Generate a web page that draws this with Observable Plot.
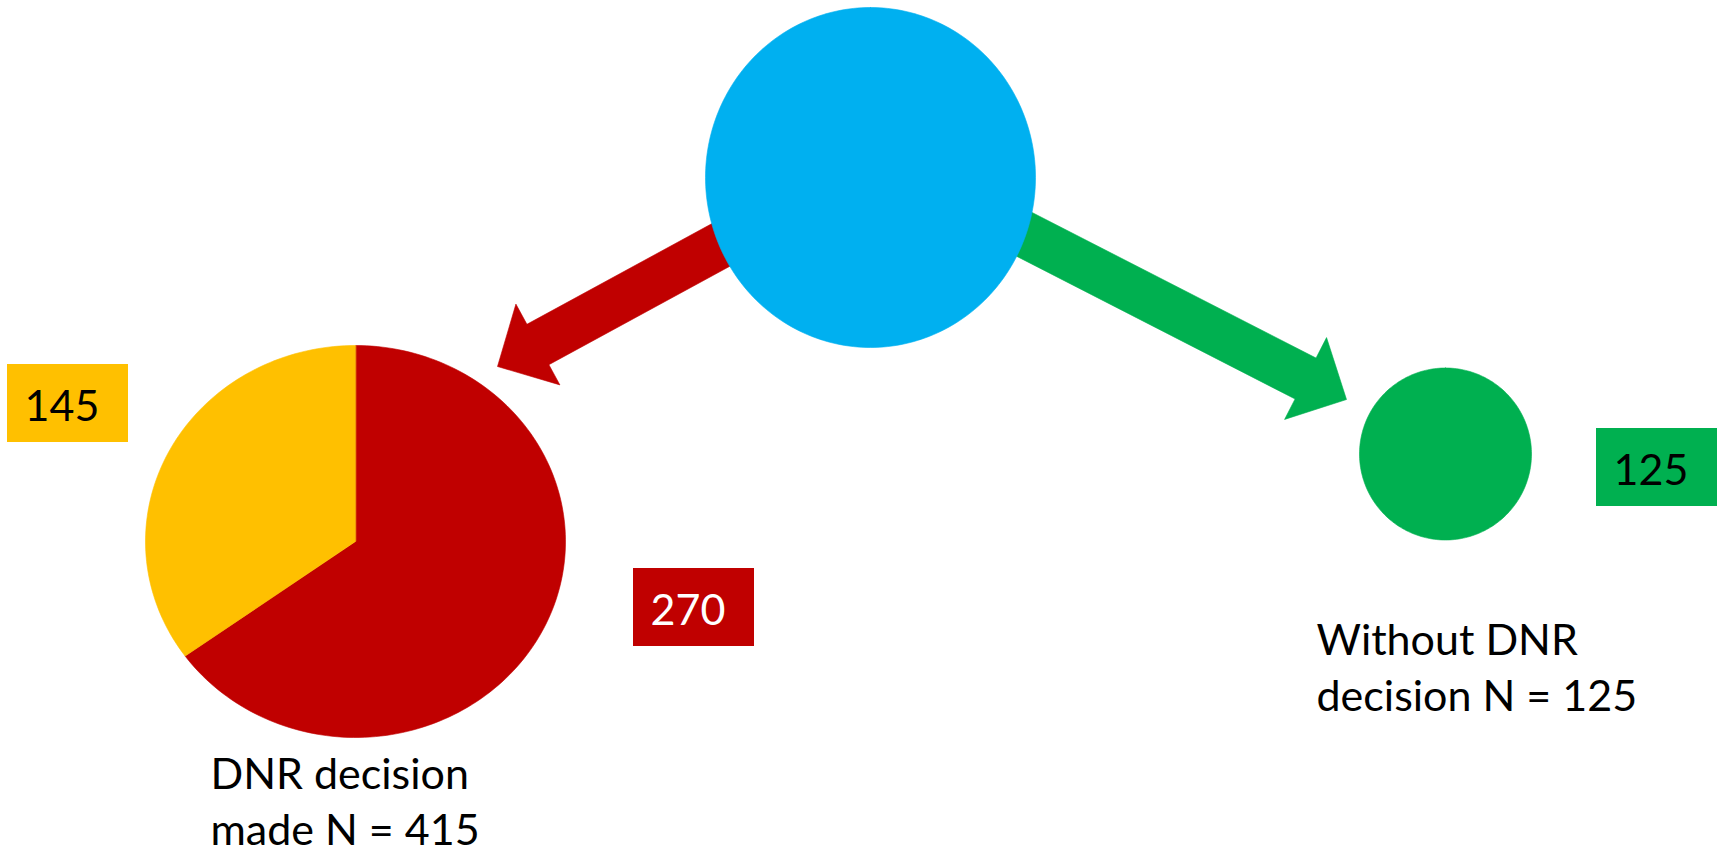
<!DOCTYPE html>
<html>
<head>
<meta charset="utf-8">
<script src="https://cdn.jsdelivr.net/npm/d3@7"></script>
<script src="https://cdn.jsdelivr.net/npm/@observablehq/plot@0.6"></script>
<style>
  html, body { margin: 0; padding: 0; background: #ffffff; }
  #chart svg { display: block; }
</style>
</head>
<body>
<div id="chart"></div>
<script>
// Patients split by whether a DNR decision was made
const groups = ["DNR decision made", "Without DNR decision"];
const groupN = [415, 125];
const groupLabels = ["DNR decision\nmade", "Without DNR\ndecision"];

// The DNR group, split into two subgroups (pie slices, clockwise from 12 o'clock)
const dnrSliceNames = ["subgroup 1", "subgroup 2"];
const dnrSliceN = [270, 145];

// ---- drawing setup -------------------------------------------------------
const W = 1720, H = 854;
const FONT = "Lato, 'Open Sans', sans-serif";
const RED = "#C00000", YELLOW = "#FFC000", GREEN = "#00B050", BLUE = "#00B0F0";

// node geometry (pixel units of the diagram)
const sourceNode = {cx: 870, cy: 177, rx: 165, ry: 170};
const dnrNode = {cx: 355, cy: 541, rx: 210, ry: 196};
const withoutNode = {cx: 1445, cy: 453.5, rx: 86, ry: 86};

// block arrows from the source node to each group
const arrowShape = {shaft: 46, head: 92, headLength: 46};
const arrowPaths = [
  {from: [870, 163], to: [497, 366], color: RED},
  {from: [870, 155], to: [1346, 399], color: GREEN}
];

// value boxes: size and text placement inside each box
const boxSize = {w: 121, h: 78, textDx: 17, baseline: 56};

function ellipsePoints(node, a0 = 0, a1 = 2 * Math.PI, center = false, steps = 240) {
  const pts = [];
  if (center) pts.push({x: node.cx, y: node.cy});
  const n = Math.max(2, Math.ceil(steps * (a1 - a0) / (2 * Math.PI)));
  for (let i = 0; i <= n; ++i) {
    const a = a0 + (a1 - a0) * i / n;
    pts.push({x: node.cx + node.rx * Math.sin(a), y: node.cy - node.ry * Math.cos(a)});
  }
  return pts;
}

function arrowPoints({from, to}) {
  const [sx, sy] = from, [tx, ty] = to;
  const len = Math.hypot(tx - sx, ty - sy);
  const ux = (tx - sx) / len, uy = (ty - sy) / len;
  const nx = -uy, ny = ux;
  const bx = tx - ux * arrowShape.headLength, by = ty - uy * arrowShape.headLength;
  const s = arrowShape.shaft / 2, h = arrowShape.head / 2;
  return [
    {x: sx + nx * s, y: sy + ny * s},
    {x: bx + nx * s, y: by + ny * s},
    {x: bx + nx * h, y: by + ny * h},
    {x: tx, y: ty},
    {x: bx - nx * h, y: by - ny * h},
    {x: bx - nx * s, y: by - ny * s},
    {x: sx - nx * s, y: sy - ny * s}
  ];
}

const shape = (points, color) =>
  Plot.line(points, {x: "x", y: "y", fill: color, stroke: color, strokeWidth: 0.6, curve: "linear-closed"});

// pie slices of the DNR group
const sliceColors = [RED, YELLOW];
const arcs = d3.pie().sort(null).value(d => d)(dnrSliceN);
const sliceMarks = arcs.map((a, i) =>
  shape(ellipsePoints(dnrNode, a.startAngle, a.endAngle, true), sliceColors[i]));

// value boxes
const boxes = [
  {n: dnrSliceN[0], x: 633, y: 568, bg: RED, fg: "#ffffff"},
  {n: dnrSliceN[1], x: 7, y: 364, bg: YELLOW, fg: "#000000"},
  {n: groupN[1], x: 1596, y: 428, bg: GREEN, fg: "#000000"}
];

// group captions below the nodes
const captions = [
  {text: `${groupLabels[0]} N = ${groupN[0]}`, x: 210, y: 844},
  {text: `${groupLabels[1]} N = ${groupN[1]}`, x: 1316, y: 710}
];

const chart = Plot.plot({
  width: W,
  height: H,
  margin: 0,
  x: {domain: [0, W], range: [0, W], axis: null},
  y: {domain: [0, H], range: [0, H], axis: null},
  color: {type: "identity"},
  style: {background: "#ffffff", fontFamily: FONT},
  marks: [
    ...arrowPaths.map(p => shape(arrowPoints(p), p.color)),
    shape(ellipsePoints(sourceNode), BLUE),
    ...sliceMarks,
    shape(ellipsePoints(withoutNode), GREEN),
    Plot.rect(boxes, {
      x1: "x", x2: d => d.x + boxSize.w,
      y1: "y", y2: d => d.y + boxSize.h,
      fill: "bg"
    }),
    Plot.text(boxes, {
      x: d => d.x + boxSize.textDx,
      y: d => d.y + boxSize.baseline,
      text: d => String(d.n),
      fill: "fg",
      textAnchor: "start",
      lineAnchor: "bottom",
      fontSize: 43,
      fontFamily: FONT
    }),
    Plot.text(captions, {
      x: "x",
      y: "y",
      text: "text",
      fill: "#000000",
      textAnchor: "start",
      lineAnchor: "bottom",
      lineHeight: 1.29,
      fontSize: 43,
      fontFamily: FONT
    })
  ]
});

document.getElementById("chart").appendChild(chart);
</script>
</body>
</html>
